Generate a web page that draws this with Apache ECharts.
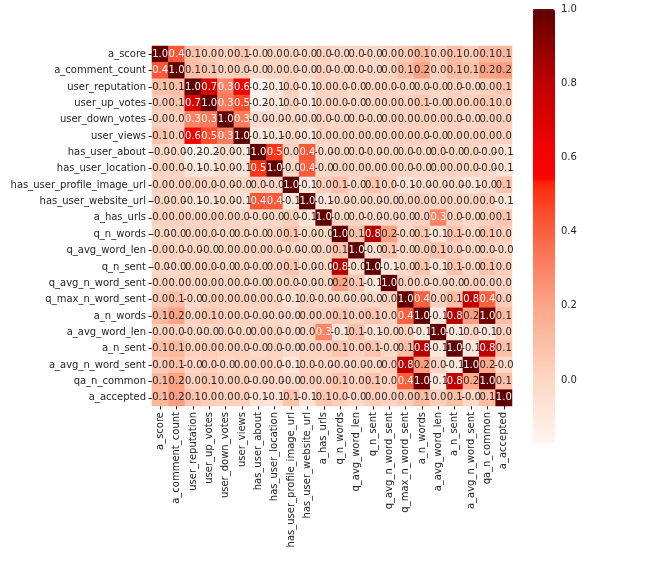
<!DOCTYPE html>
<html>
<head>
<meta charset="utf-8">
<script src="https://cdn.jsdelivr.net/npm/echarts@6/dist/echarts.min.js"></script>
<style>
  html, body { margin: 0; padding: 0; background: #fff; }
  #main { width: 668px; height: 564px; }
</style>
</head>
<body>
<div id="main"></div>
<script>
var names = ['a_score', 'a_comment_count', 'user_reputation', 'user_up_votes', 'user_down_votes', 'user_views',
  'has_user_about', 'has_user_location', 'has_user_profile_image_url', 'has_user_website_url', 'a_has_urls',
  'q_n_words', 'q_avg_word_len', 'q_n_sent', 'q_avg_n_word_sent', 'q_max_n_word_sent', 'a_n_words',
  'a_avg_word_len', 'a_n_sent', 'a_avg_n_word_sent', 'qa_n_common', 'a_accepted'];

// upper triangle, each row starts at the diagonal
var r_a_score = [1, 0.42, 0.09, 0.03, 0.02, 0.08, -0.02, 0.01, 0.01, -0.01, 0.02, -0.01, 0.01, -0.01, 0.01, 0.04, 0.12, 0.02, 0.1, 0.04, 0.12, 0.13];
var r_a_comment_count = [1, 0.1, 0.07, 0.02, 0.03, -0.02, 0.01, 0.01, -0.01, 0.02, -0.01, 0.01, -0.01, 0.01, 0.1, 0.21, 0.02, 0.12, 0.09, 0.21, 0.22];
var r_user_reputation = [1, 0.71, 0.3, 0.62, -0.17, -0.1, 0.02, -0.08, 0.01, 0.01, -0.01, 0.01, 0.01, -0.01, 0.01, -0.01, 0.02, -0.01, 0.02, 0.07];
var r_user_up_votes = [1, 0.33, 0.45, -0.16, -0.09, 0.01, -0.08, 0.01, 0.01, -0.01, 0.01, 0.01, 0.02, 0.06, -0.01, 0.03, 0.02, 0.06, 0.03];
var r_user_down_votes = [1, 0.32, -0.03, -0.02, -0.01, -0.02, 0.01, -0.01, 0.01, -0.01, 0.01, 0.02, 0.02, 0.01, 0.02, -0.01, 0.02, 0.02];
var r_user_views = [1, -0.1, -0.07, -0.01, -0.07, 0.01, 0.01, 0.01, 0.01, 0.01, 0.02, 0.02, -0.01, 0.02, 0.01, 0.02, 0.02];
var r_has_user_about = [1, 0.5, 0.01, 0.42, -0.02, -0.01, 0.01, -0.01, -0.01, 0.01, -0.01, 0.01, -0.01, 0.01, -0.02, -0.07];
var r_has_user_location = [1, -0.01, 0.41, -0.01, 0.01, 0.01, 0.01, 0.01, 0.01, -0.01, 0.01, 0.01, 0.01, -0.01, -0.07];
var r_has_user_profile_image_url = [1, -0.1, 0.03, 0.08, -0.01, 0.07, 0.02, -0.07, -0.03, -0.02, -0.03, -0.08, -0.03, 0.08];
var r_has_user_website_url = [1, -0.07, -0.01, -0.01, -0.01, -0.01, 0.01, 0.02, 0.01, 0.01, 0.01, 0.02, -0.07];
var r_a_has_urls = [1, -0.01, 0.01, -0.01, -0.01, -0.01, 0.02, 0.3, 0.02, -0.01, 0.02, 0.07];
var r_q_n_words = [1, 0.08, 0.82, 0.21, -0.01, 0.07, -0.07, 0.08, -0.01, 0.07, 0.03];
var r_q_avg_word_len = [1, -0.04, 0.07, -0.01, 0.02, 0.09, 0.02, -0.01, 0.02, -0.01];
var r_q_n_sent = [1, -0.1, -0.01, 0.08, -0.07, 0.08, -0.01, 0.08, 0.03];
var r_q_avg_n_word_sent = [1, 0.02, 0.01, -0.01, -0.01, 0.02, 0.01, 0.01];
var r_q_max_n_word_sent = [1, 0.4, 0.02, 0.1, 0.8, 0.4, 0.04];
var r_a_n_words = [1, -0.1, 0.82, 0.22, 0.97, 0.11];
var r_a_avg_word_len = [1, -0.1, 0.01, -0.1, 0.03];
var r_a_n_sent = [1, -0.1, 0.79, 0.1];
var r_a_avg_n_word_sent = [1, 0.19, -0.01];
var r_qa_n_common = [1, 0.1];
var r_a_accepted = [1];

var upper = [r_a_score, r_a_comment_count, r_user_reputation, r_user_up_votes, r_user_down_votes, r_user_views,
  r_has_user_about, r_has_user_location, r_has_user_profile_image_url, r_has_user_website_url, r_a_has_urls,
  r_q_n_words, r_q_avg_word_len, r_q_n_sent, r_q_avg_n_word_sent, r_q_max_n_word_sent, r_a_n_words,
  r_a_avg_word_len, r_a_n_sent, r_a_avg_n_word_sent, r_qa_n_common, r_a_accepted];

var cbTicks = [0, 0.2, 0.4, 0.6, 0.8, 1.0];
var vMin = -0.17, vMax = 1.0;

function corr(i, j) {
  if (j < i) { var t = i; i = j; j = t; }
  return upper[i][j - i];
}

var data = [];
for (var i = 0; i < names.length; i++) {
  for (var j = 0; j < names.length; j++) {
    var v = corr(i, j);
    data.push({
      value: [j, i, v],
      label: { color: v >= 0.28 ? '#ffffff' : '#262626' }
    });
  }
}

// colour ramp
var anchors = [
  [-0.17, [255, 245, 240]],
  [0.0, [253, 214, 196]],
  [0.2, [252, 166, 136]],
  [0.35, [252, 114, 82]],
  [0.45, [253, 76, 44]],
  [0.53, [255, 40, 10]],
  [0.545, [255, 0, 0]],
  [0.65, [236, 0, 0]],
  [0.8, [190, 0, 0]],
  [1.0, [96, 0, 0]]
];
function rampColor(v) {
  for (var k = 1; k < anchors.length; k++) {
    if (v <= anchors[k][0]) {
      var a = anchors[k - 1], b = anchors[k];
      var f = (v - a[0]) / (b[0] - a[0]);
      var c = [0, 1, 2].map(function (n) { return Math.round(a[1][n] + f * (b[1][n] - a[1][n])); });
      return 'rgb(' + c.join(',') + ')';
    }
  }
  return 'rgb(96,0,0)';
}
var ramp = [];
for (var s = 0; s <= 234; s++) {
  ramp.push(rampColor(vMin + (vMax - vMin) * s / 234));
}

var font = 'DejaVu Sans';
var chart = echarts.init(document.getElementById('main'));

var option = {
  backgroundColor: '#ffffff',
  animation: false,
  textStyle: { fontFamily: font },
  grid: [
    { left: 152, top: 46, width: 360, height: 360 },
    { left: 533, top: 9, width: 22, height: 434 }
  ],
  xAxis: [
    {
      type: 'category',
      gridIndex: 0,
      data: names,
      axisLine: { show: false },
      axisTick: { show: true, length: 3.5, alignWithLabel: true, lineStyle: { color: '#262626' } },
      axisLabel: { rotate: 90, interval: 0, fontSize: 10, color: '#262626', fontFamily: font, margin: 6 },
      splitLine: { show: false }
    },
    {
      type: 'value',
      gridIndex: 1,
      show: false
    }
  ],
  yAxis: [
    {
      type: 'category',
      gridIndex: 0,
      data: names,
      inverse: true,
      axisLine: { show: false },
      axisTick: { show: true, length: 3.5, alignWithLabel: true, lineStyle: { color: '#262626' } },
      axisLabel: { interval: 0, fontSize: 10, color: '#262626', fontFamily: font, margin: 6 },
      splitLine: { show: false }
    },
    {
      type: 'value',
      gridIndex: 1,
      position: 'right',
      min: vMin,
      max: vMax,
      axisLine: { show: false },
      splitLine: { show: false },
      axisTick: { show: true, length: 3.5, customValues: cbTicks, lineStyle: { color: '#262626' } },
      axisLabel: {
        show: true, fontSize: 10, color: '#262626', fontFamily: font, margin: 6,
        customValues: cbTicks,
        formatter: function (v) { return v.toFixed(1); }
      }
    }
  ],
  visualMap: {
    type: 'continuous',
    seriesIndex: 0,
    min: vMin,
    max: vMax,
    orient: 'vertical',
    left: 533,
    top: 9,
    padding: 0,
    itemWidth: 22,
    itemHeight: 434,
    calculable: false,
    realtime: false,
    text: null,
    showLabel: false,
    inRange: { color: ramp }
  },
  series: [
    {
      type: 'heatmap',
      xAxisIndex: 0,
      yAxisIndex: 0,
      data: data,
      label: {
        show: true,
        fontSize: 10,
        fontFamily: font,
        formatter: function (p) { return p.value[2].toFixed(1); }
      },
      itemStyle: { borderWidth: 0 },
      emphasis: { disabled: true }
    }
  ]
};

chart.setOption(option);
</script>
</body>
</html>
